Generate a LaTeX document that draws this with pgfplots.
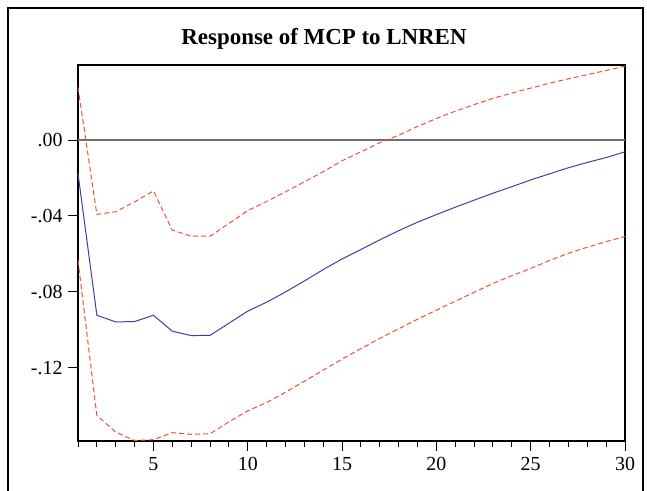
\documentclass[border=0pt]{standalone}
\usepackage{fontspec}
\setmainfont{Liberation Serif}
\usepackage{pgfplots}
\pgfplotsset{compat=1.18}
\definecolor{irfblue}{RGB}{72,58,165}
\definecolor{irfred}{RGB}{240,80,50}
\definecolor{zeroline}{RGB}{110,110,110}

% impulse response, point estimate and +/- 2 s.e. bands
\pgfplotstableread{
t   mid      up       lo
1  -0.0176   0.0278  -0.0634
2  -0.0924  -0.0392  -0.1452
3  -0.0959  -0.0378  -0.1540
4  -0.0957  -0.0326  -0.1584
5  -0.0924  -0.0268  -0.1580
6  -0.1008  -0.0475  -0.1543
7  -0.1031  -0.0507  -0.1552
8  -0.1030  -0.0507  -0.1549
9  -0.0966  -0.0440  -0.1486
10 -0.0902  -0.0372  -0.1428
11 -0.0855  -0.0324  -0.1384
12 -0.0801  -0.0273  -0.1330
13 -0.0743  -0.0220  -0.1272
14 -0.0683  -0.0167  -0.1213
15 -0.0627  -0.0109  -0.1155
16 -0.0577  -0.0062  -0.1100
17 -0.0526  -0.0014  -0.1046
18 -0.0478   0.0026  -0.0995
19 -0.0433   0.0072  -0.0945
20 -0.0393   0.0114  -0.0897
21 -0.0354   0.0152  -0.0850
22 -0.0317   0.0187  -0.0803
23 -0.0280   0.0220  -0.0756
24 -0.0246   0.0248  -0.0715
25 -0.0210   0.0274  -0.0677
26 -0.0178   0.0300  -0.0635
27 -0.0146   0.0323  -0.0597
28 -0.0118   0.0345  -0.0565
29 -0.0092   0.0367  -0.0536
30 -0.0062   0.0390  -0.0508
}\irf

\begin{document}
\begin{tikzpicture}[x=1bp,y=1bp]
\path[use as bounding box] (0,0) rectangle (647,491);
\draw[line width=2bp] (8,-10) -- (8,483) -- (643,483) -- (643,-10);
\node[anchor=base, font=\bfseries\fontsize{23}{26}\selectfont] at (324,446) {Response of MCP to LNREN};
\begin{axis}[
    at={(78bp,50bp)}, anchor=south west,
    scale only axis, width=547bp, height=376bp,
    xmin=1, xmax=30, ymin=-0.1587, ymax=0.0396,
    axis line style={line width=1.5bp},
    tick align=outside,
    xtick pos=bottom, ytick pos=left,
    xtick={5,10,15,20,25,30},
    minor xtick={1,...,30},
    ytick={0,-0.04,-0.08,-0.12},
    yticklabels={.00,-.04,-.08,-.12},
    major tick length=10bp, minor tick length=6bp,
    every tick/.style={black, line width=1bp},
    tick label style={font=\fontsize{20}{22}\selectfont},
    xticklabel style={yshift=-3bp},
    yticklabel style={xshift=-2bp},
    /pgf/number format/assume math mode=true,
    clip=false,
]
\addplot[zeroline, line width=1.5bp, forget plot] coordinates {(1,0) (30,0)};
\addplot[irfblue, line width=1bp] table[x=t, y=mid] {\irf};
\addplot[irfred, line width=1bp, dash pattern=on 5bp off 3bp] table[x=t, y=up] {\irf};
\addplot[irfred, line width=1bp, dash pattern=on 5bp off 3bp] table[x=t, y=lo] {\irf};
\end{axis}
\end{tikzpicture}
\end{document}
